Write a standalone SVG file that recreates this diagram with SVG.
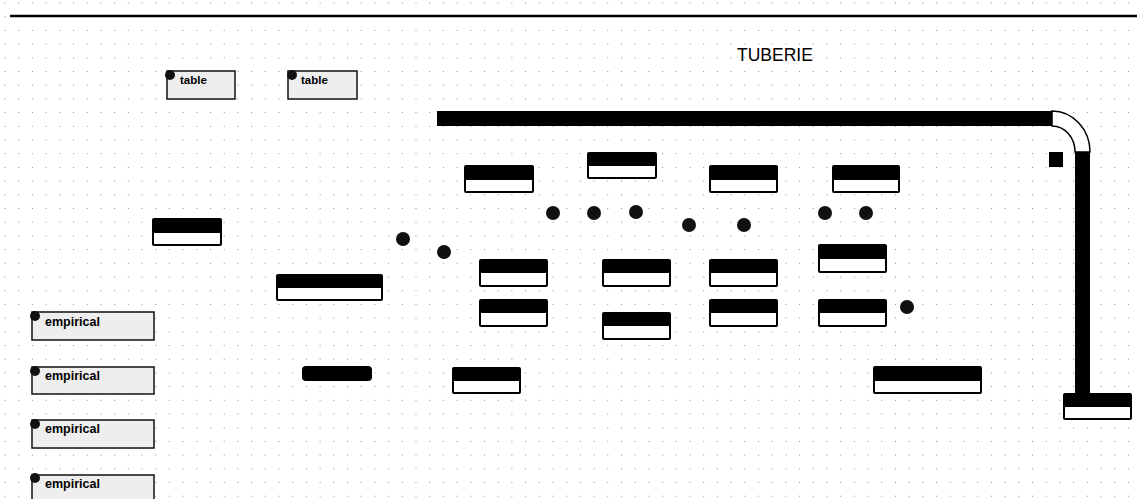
<svg xmlns="http://www.w3.org/2000/svg" width="1137" height="499" viewBox="0 0 1137 499">
<defs>
<pattern id="grid" x="4.5" y="2.5" width="13.7" height="13.7" patternUnits="userSpaceOnUse">
<rect x="0" y="0" width="1" height="1" fill="#8a8a8a"/>
</pattern>
<style>
.blk{fill:#000;}
.wht{fill:#fff;}
.lab{fill:#eeeeee;stroke:#111;stroke-width:1.5;}
.dot{fill:#111;}
.t{font-family:"Liberation Sans",Arial,sans-serif;font-weight:bold;font-size:11.5px;fill:#000;}
.e{font-size:12.5px;}
.title{font-family:"Liberation Sans",Arial,sans-serif;font-size:17.5px;fill:#000;}
</style>
</defs>
<rect width="1137" height="499" fill="#fff"/>
<rect width="1137" height="499" fill="url(#grid)"/>
<line x1="10" y1="16" x2="1137" y2="16" stroke="#000" stroke-width="2.5"/>

<text class="title" x="737" y="61">TUBERIE</text>

<g id="labels">
<g id="table1"><rect class="lab" x="167" y="71" width="68" height="28"/><circle class="dot" cx="170" cy="75" r="5"/><text class="t" x="180" y="84">table</text></g>
<g id="table2"><rect class="lab" x="288" y="71" width="69" height="28"/><circle class="dot" cx="292" cy="75" r="5"/><text class="t" x="301" y="84">table</text></g>
<g id="emp1"><rect class="lab" x="32" y="312" width="122" height="28"/><circle class="dot" cx="35" cy="316" r="5"/><text class="t e" x="45" y="326">empirical</text></g>
<g id="emp2"><rect class="lab" x="32" y="367" width="122" height="27"/><circle class="dot" cx="35" cy="371" r="5"/><text class="t e" x="45" y="380">empirical</text></g>
<g id="emp3"><rect class="lab" x="32" y="420" width="122" height="28"/><circle class="dot" cx="35" cy="424" r="5"/><text class="t e" x="45" y="433">empirical</text></g>
<g id="emp4"><rect class="lab" x="32" y="475" width="122" height="30"/><circle class="dot" cx="35" cy="478" r="5"/><text class="t e" x="45" y="488">empirical</text></g>
</g>

<g id="pipe">
<rect class="blk" x="437" y="111" width="615" height="15"/>
<path d="M1052,111 A38,41 0 0 1 1090,152 L1075,152 A23,26 0 0 0 1052,126 Z" fill="#fff" stroke="#000" stroke-width="1.5"/>
<rect class="blk" x="1075" y="152" width="15" height="242"/>
<rect class="blk" x="1049" y="152" width="14" height="15"/>
</g>

<g id="tank">
<rect class="blk" x="1063" y="393" width="69" height="27" rx="2"/>
<rect class="wht" x="1065" y="407" width="65" height="11"/>
</g>

<g id="boxes">
<g id="b1"><rect class="blk" x="464" y="165" width="70" height="28" rx="2"/><rect class="wht" x="466" y="180" width="66" height="11"/></g>
<g id="b2"><rect class="blk" x="587" y="152" width="70" height="27" rx="2"/><rect class="wht" x="589" y="166" width="66" height="11"/></g>
<g id="b3"><rect class="blk" x="709" y="165" width="69" height="28" rx="2"/><rect class="wht" x="711" y="180" width="65" height="11"/></g>
<g id="b4"><rect class="blk" x="832" y="165" width="68" height="28" rx="2"/><rect class="wht" x="834" y="180" width="64" height="11"/></g>
<g id="b5"><rect class="blk" x="152" y="218" width="70" height="28" rx="2"/><rect class="wht" x="154" y="233" width="66" height="11"/></g>
<g id="b6"><rect class="blk" x="276" y="274" width="107" height="27" rx="2"/><rect class="wht" x="278" y="288" width="103" height="11"/></g>
<g id="b7"><rect class="blk" x="479" y="259" width="69" height="28" rx="2"/><rect class="wht" x="481" y="273" width="65" height="12"/></g>
<g id="b8"><rect class="blk" x="602" y="259" width="69" height="28" rx="2"/><rect class="wht" x="604" y="273" width="65" height="12"/></g>
<g id="b9"><rect class="blk" x="709" y="259" width="69" height="28" rx="2"/><rect class="wht" x="711" y="273" width="65" height="12"/></g>
<g id="b10"><rect class="blk" x="818" y="244" width="69" height="29" rx="2"/><rect class="wht" x="820" y="259" width="65" height="12"/></g>
<g id="b11"><rect class="blk" x="479" y="299" width="69" height="28" rx="2"/><rect class="wht" x="481" y="313" width="65" height="12"/></g>
<g id="b12"><rect class="blk" x="602" y="312" width="69" height="28" rx="2"/><rect class="wht" x="604" y="326" width="65" height="12"/></g>
<g id="b13"><rect class="blk" x="709" y="299" width="69" height="28" rx="2"/><rect class="wht" x="711" y="313" width="65" height="12"/></g>
<g id="b14"><rect class="blk" x="818" y="299" width="69" height="28" rx="2"/><rect class="wht" x="820" y="313" width="65" height="12"/></g>
<g id="b15"><rect class="blk" x="302" y="366" width="70" height="15" rx="4"/></g>
<g id="b16"><rect class="blk" x="452" y="367" width="69" height="27" rx="2"/><rect class="wht" x="454" y="381" width="65" height="11"/></g>
<g id="b17"><rect class="blk" x="873" y="366" width="109" height="28" rx="2"/><rect class="wht" x="875" y="381" width="105" height="11"/></g>
</g>

<g id="dots">
<circle class="dot" cx="403" cy="239" r="7"/>
<circle class="dot" cx="444" cy="252" r="7"/>
<circle class="dot" cx="553" cy="213" r="7"/>
<circle class="dot" cx="594" cy="213" r="7"/>
<circle class="dot" cx="636" cy="212" r="7"/>
<circle class="dot" cx="689" cy="225" r="7"/>
<circle class="dot" cx="744" cy="225" r="7"/>
<circle class="dot" cx="825" cy="213" r="7"/>
<circle class="dot" cx="866" cy="213" r="7"/>
<circle class="dot" cx="907" cy="307" r="7"/>
</g>
<g id="connectors"></g>
</svg>
